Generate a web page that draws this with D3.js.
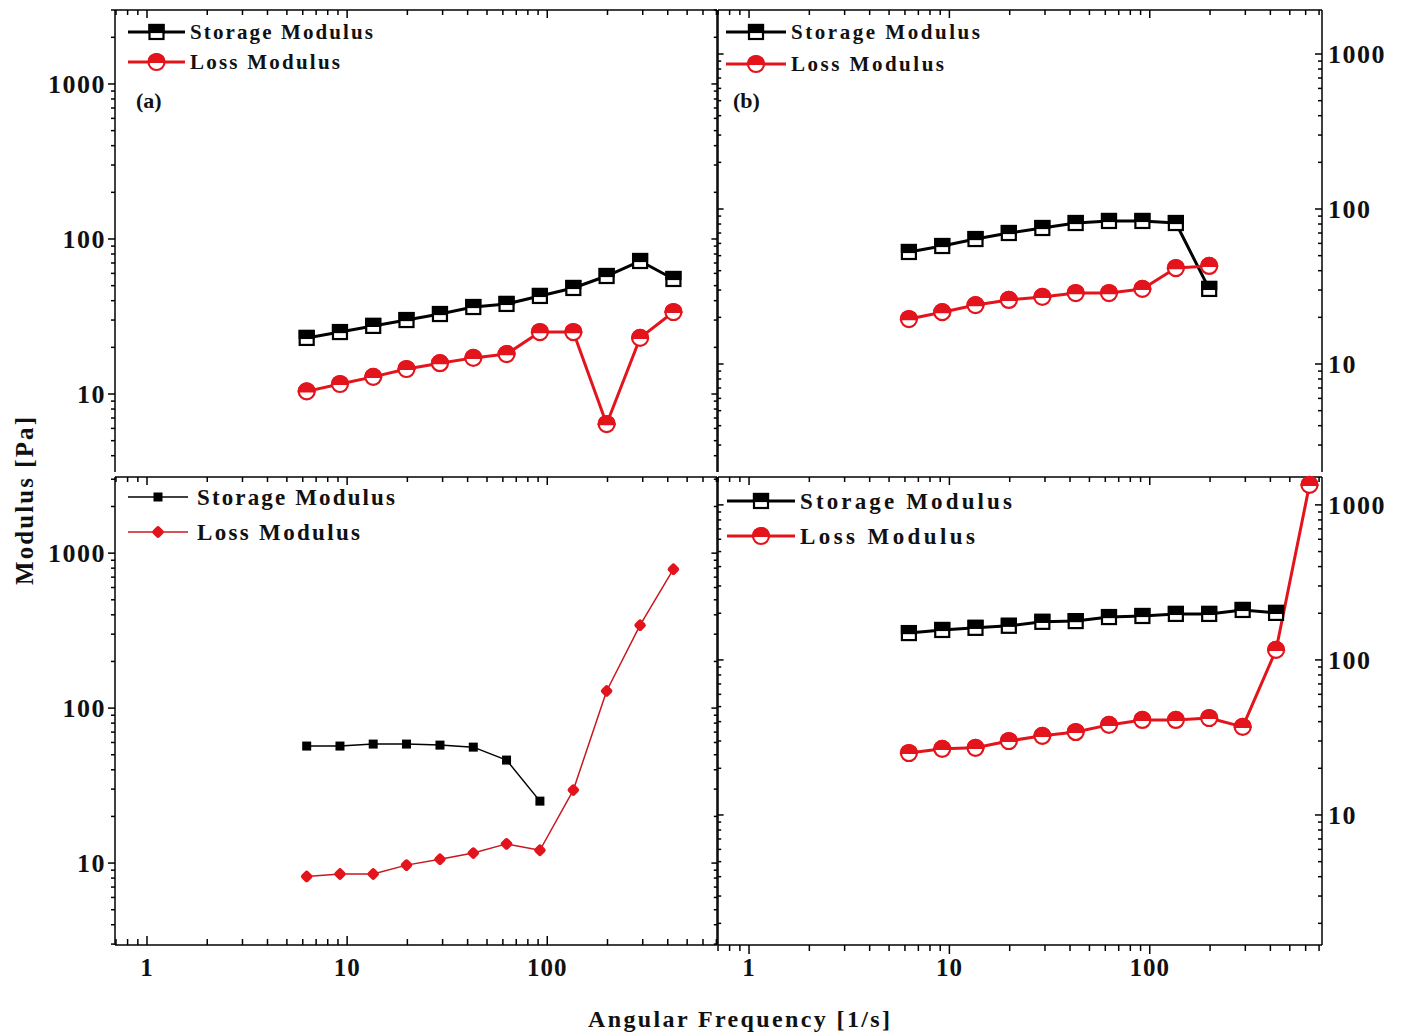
<!DOCTYPE html>
<html><head><meta charset="utf-8">
<script src="https://cdn.jsdelivr.net/npm/d3@7"></script>
<style>body{margin:0;background:#fff}svg{display:block}text{font-family:"Liberation Serif","Times New Roman",serif;font-weight:bold;fill:#111}</style>
</head><body><svg id="chart" width="1410" height="1033"></svg>
<script>
// ---- data ----
const freq = [6.28, 9.21, 13.5, 19.8, 29.1, 42.7, 62.6, 91.9, 135, 198, 291, 427, 627];
const aStorage = [23.0, 25.1, 27.5, 30.0, 32.8, 36.4, 38.1, 42.9, 48.3, 57.7, 72.1, 55.2];
const aLoss    = [10.4, 11.6, 12.9, 14.5, 15.8, 17.1, 18.1, 25.1, 25.1, 6.4, 23.0, 33.8];
const bStorage = [52.8, 57.7, 64.0, 70.0, 75.4, 81.2, 83.7, 83.7, 81.2, 30.5];
const bLoss    = [19.5, 21.6, 24.0, 25.9, 27.1, 28.7, 28.7, 30.5, 41.6, 42.9];
const cStorage = [56.9, 56.9, 58.6, 58.6, 57.7, 56.0, 46.2, 25.1];
const cLoss    = [8.2, 8.5, 8.5, 9.7, 10.6, 11.6, 13.3, 12.1, 29.6, 129, 343, 788];
const dStorage = [149, 156, 161, 166, 176, 178, 189, 192, 198, 198, 210, 201];
const dLoss    = [25.1, 26.7, 27.1, 30.0, 32.4, 34.3, 38.1, 41.0, 41.0, 42.2, 37.0, 116, 1346];
const yTicks = [10, 100, 1000];
const xTicks = [1, 10, 100];
const seriesNames = ["Storage Modulus", "Loss Modulus"];
const panelTags = ["(a)", "(b)", "", ""];
const xTitle = "Angular Frequency [1/s]";
const yTitle = "Modulus [Pa]";

const RED = "#e3141c";
const svg = d3.select("#chart");

function minorVals(dom){
  const out=[];
  for(let e=-1;e<=4;e++){for(let m=1;m<=9;m++){const v=m*Math.pow(10,e);if(v>=dom[0]&&v<=dom[1])out.push(v);}}
  return out;
}

function halfSquare(g, s, sw){
  g.append("rect").attr("x",-s/2).attr("y",-s/2).attr("width",s).attr("height",s).attr("fill","#fff").attr("stroke","#000").attr("stroke-width",sw);
  g.append("rect").attr("x",-s/2).attr("y",-s/2).attr("width",s).attr("height",s/2).attr("fill","#000").attr("stroke","#000").attr("stroke-width",sw);
}
function halfCircle(g, r, sw){
  g.append("circle").attr("r",r).attr("fill","#fff").attr("stroke",RED).attr("stroke-width",sw);
  g.append("path").attr("d",`M${-r},0 A${r},${r} 0 0 1 ${r},0 Z`).attr("fill",RED).attr("stroke",RED).attr("stroke-width",sw);
}
function smallSquare(g){ g.append("rect").attr("x",-4.5).attr("y",-4.5).attr("width",9).attr("height",9).attr("fill","#000"); }
function smallDiamond(g){ g.append("rect").attr("x",-3.8).attr("y",-3.8).attr("width",7.6).attr("height",7.6).attr("rx",1.5)
  .attr("transform","rotate(45)").attr("fill",RED).attr("stroke",RED).attr("stroke-width",2).attr("stroke-linejoin","round"); }

const panels = [
  {px:[115,717], py:[10,472], xd:[0.692,705], yd:[3.14,3000], side:"left", bottom:false,
   s:aStorage, l:aLoss, style:"half", lw:3, tag:panelTags[0],
   leg:{x0:128,x1:185,ys:32,yl:62,tx:190,fs:21,ws:183,wl:150,tagx:136,tagy:108}},
  {px:[718,1322], py:[10,472], xd:[0.70,724], yd:[2.01,1923], side:"right", bottom:false,
   s:bStorage, l:bLoss, style:"half", lw:3, tag:panelTags[1],
   leg:{x0:726,x1:786,ys:32,yl:64,tx:791,fs:21,ws:189,wl:153,tagx:733,tagy:108}},
  {px:[115,717], py:[477,945], xd:[0.692,705], yd:[2.96,3100], side:"left", bottom:"in",
   s:cStorage, l:cLoss, style:"small", lw:1.5, tag:panelTags[2],
   leg:{x0:128,x1:188,ys:497,yl:532,tx:197,fs:23,ws:198,wl:163}},
  {px:[718,1322], py:[477,945], xd:[0.70,724], yd:[1.45,1513], side:"right", bottom:"out",
   s:dStorage, l:dLoss, style:"half", lw:3, tag:panelTags[3],
   leg:{x0:727,x1:795,ys:501,yl:536,tx:800,fs:23,ws:212,wl:175}}
];

panels.forEach(p=>{
  const x = d3.scaleLog().domain(p.xd).range(p.px);
  const y = d3.scaleLog().domain(p.yd).range([p.py[1],p.py[0]]);
  const g = svg.append("g");
  const [L,R] = p.px, [T,B] = p.py;
  const ax = g.append("g").attr("stroke","#000").attr("stroke-width",1.5);
  ax.append("line").attr("x1",L).attr("x2",L).attr("y1",T).attr("y2",B);
  ax.append("line").attr("x1",R).attr("x2",R).attr("y1",T).attr("y2",B);
  ax.append("line").attr("x1",L).attr("x2",R).attr("y1",T).attr("y2",T);
  if(p.bottom) ax.append("line").attr("x1",L).attr("x2",R).attr("y1",B).attr("y2",B);
  const xmin = minorVals(p.xd), ymin = minorVals(p.yd);
  const isMajor = v => Math.abs(Math.log10(v)-Math.round(Math.log10(v)))<1e-9;
  xmin.forEach(v=>{const len=isMajor(v)?8:5; ax.append("line").attr("x1",x(v)).attr("x2",x(v)).attr("y1",T).attr("y2",T+len);});
  if(p.bottom){
    const dir = p.bottom==="in"?-1:1;
    xmin.forEach(v=>{const len=isMajor(v)?9:6; ax.append("line").attr("x1",x(v)).attr("x2",x(v)).attr("y1",B).attr("y2",B+dir*len);});
    g.selectAll(".xl").data(xTicks).join("text").attr("x",d=>x(d)).attr("y",B+31)
      .attr("text-anchor","middle").attr("font-size",25).attr("letter-spacing",1).text(d=>d);
  }
  const otherX = p.side==="left"?R:L;
  ymin.forEach(v=>{
    const len=isMajor(v)?7:4;
    if(p.side==="left") ax.append("line").attr("x1",L).attr("x2",L-len).attr("y1",y(v)).attr("y2",y(v));
    else ax.append("line").attr("x1",R).attr("x2",R-len).attr("y1",y(v)).attr("y2",y(v));
    const dir = p.side==="left"?-1:1;
    ax.append("line").attr("x1",otherX).attr("x2",otherX+dir*len*0.8).attr("y1",y(v)).attr("y2",y(v));
  });
  g.selectAll(".yl").data(yTicks).join("text")
    .attr("x",p.side==="left"?L-9:R+6).attr("y",d=>y(d)+9)
    .attr("text-anchor",p.side==="left"?"end":"start").attr("font-size",26).attr("letter-spacing",1.5).text(d=>d);

  const line = d3.line().x((d,i)=>x(freq[i])).y(d=>y(d));
  const plot = g.append("g");
  plot.append("path").datum(p.s).attr("d",line).attr("fill","none").attr("stroke","#000").attr("stroke-width",p.lw).attr("stroke-linejoin","round");
  plot.append("path").datum(p.l).attr("d",line).attr("fill","none").attr("stroke",p.style==="small"?"#c8181e":RED).attr("stroke-width",p.lw).attr("stroke-linejoin","round");
  p.s.forEach((v,i)=>{const m=plot.append("g").attr("transform",`translate(${x(freq[i])},${y(v)})`); p.style==="half"?halfSquare(m,14,2.2):smallSquare(m);});
  p.l.forEach((v,i)=>{const m=plot.append("g").attr("transform",`translate(${x(freq[i])},${y(v)})`); p.style==="half"?halfCircle(m,8,2.2):smallDiamond(m);});

  const lg = p.leg;
  const leg = g.append("g");
  [[lg.ys,"#000",0,lg.ws],[lg.yl,RED,1,lg.wl]].forEach(([ly,col,k,w])=>{
    leg.append("line").attr("x1",lg.x0).attr("x2",lg.x1).attr("y1",ly).attr("y2",ly).attr("stroke",k===1&&p.style==="small"?"#c8181e":col).attr("stroke-width",p.lw);
    const m = leg.append("g").attr("transform",`translate(${(lg.x0+lg.x1)/2},${ly})`);
    if(p.style==="half"){ k===0?halfSquare(m,14,2.2):halfCircle(m,8,2.2); }
    else { k===0?smallSquare(m):smallDiamond(m); }
    leg.append("text").attr("x",lg.tx).attr("y",ly+lg.fs*0.35).attr("font-size",lg.fs)
      .attr("textLength",w).attr("lengthAdjust","spacing").text(seriesNames[k]);
  });
  if(p.tag) leg.append("text").attr("x",lg.tagx).attr("y",lg.tagy).attr("font-size",22).text(p.tag);
});

svg.append("text").attr("transform","translate(33,501) rotate(-90)").attr("text-anchor","middle")
  .attr("font-size",25).attr("textLength",168).attr("lengthAdjust","spacing").text(yTitle);
svg.append("text").attr("x",739).attr("y",1027).attr("text-anchor","middle")
  .attr("font-size",24).attr("textLength",302).attr("lengthAdjust","spacing").text(xTitle);
</script></body></html>
